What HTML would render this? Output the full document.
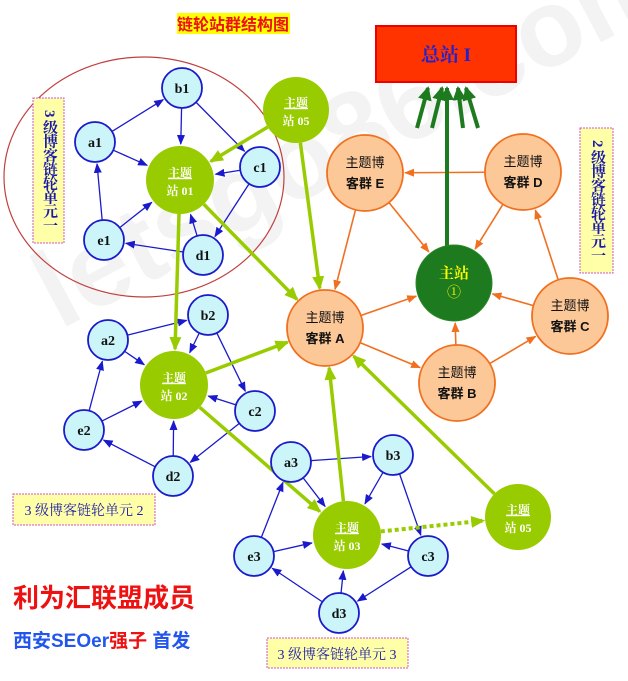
<!DOCTYPE html>
<html><head><meta charset="utf-8"><style>
body{margin:0;background:#fff;width:628px;height:681px;overflow:hidden;font-family:"Liberation Serif","Noto Serif CJK SC",serif}
svg{position:absolute;left:0;top:0}
.t{font-family:"Liberation Sans","Noto Sans CJK SC",sans-serif}
</style></head><body>
<svg id="s" width="628" height="681" xmlns="http://www.w3.org/2000/svg">
<defs>
<marker id="mb" markerWidth="10" markerHeight="8" refX="9" refY="4" orient="auto" markerUnits="userSpaceOnUse"><path d="M0,0L10,4L0,8z" fill="#1a1acc"/></marker>
<marker id="mo" markerWidth="10" markerHeight="8" refX="9" refY="4" orient="auto" markerUnits="userSpaceOnUse"><path d="M0,0L10,4L0,8z" fill="#f07020"/></marker>
<marker id="mg" markerWidth="14" markerHeight="12" refX="12" refY="6" orient="auto" markerUnits="userSpaceOnUse"><path d="M0,0L14,6L0,12z" fill="#99cc00"/></marker>
<marker id="md" markerWidth="14" markerHeight="14" refX="12" refY="7" orient="auto" markerUnits="userSpaceOnUse"><path d="M0,0L14,7L0,14z" fill="#1e7a1e"/></marker>
</defs>
<text x="60" y="330" transform="rotate(-28 60 330)" font-size="110" font-family="Liberation Sans" font-weight="bold" fill="#f3f3f3">letsgo86.com</text>
<ellipse cx="144" cy="177" rx="140" ry="120" fill="none" stroke="#c04040" stroke-width="1.2"/>
<g id="edges"></g>
<g id="nodes"></g>
<rect x="177" y="13" width="113" height="21" fill="#ffff00"/>
<text x="233" y="30" text-anchor="middle" font-size="16" font-weight="bold" fill="#ee1111" class="t">链轮站群结构图</text>
<rect x="376" y="26" width="140" height="56" fill="#ff3300" stroke="#ee0000" stroke-width="2"/>
<text x="446" y="61" text-anchor="middle" font-size="19" font-weight="bold" fill="#2222cc">总站 I</text>
<rect x="33" y="98" width="31" height="145" fill="#ffffa8" stroke="#cc55cc" stroke-dasharray="2,1"/>
<text x="49" y="110" font-size="15" fill="#1a1aaa" style="writing-mode:vertical-rl;letter-spacing:-1px" font-weight="bold">3 级博客链轮单元一</text>
<rect x="580" y="128" width="33" height="145" fill="#ffffa8" stroke="#cc55cc" stroke-dasharray="2,1"/>
<text x="597" y="140" font-size="15" fill="#1a1aaa" style="writing-mode:vertical-rl;letter-spacing:-1px" font-weight="bold">2 级博客链轮单元一</text>
<rect x="13" y="494" width="142" height="31" fill="#ffffa8" stroke="#cc55cc" stroke-dasharray="2,1"/>
<text x="84" y="515" text-anchor="middle" font-size="14" fill="#1a1aaa">3 级博客链轮单元 2</text>
<rect x="267" y="638" width="141" height="30" fill="#ffffa8" stroke="#cc55cc" stroke-dasharray="2,1"/>
<text x="337" y="659" text-anchor="middle" font-size="14" fill="#1a1aaa">3 级博客链轮单元 3</text>
<text x="13" y="607" font-size="26" font-weight="bold" fill="#ee1111" class="t">利为汇联盟成员</text>
<text x="13" y="647" font-size="19" font-weight="bold" class="t" fill="#2255ee">西安SEOer<tspan fill="#ee1111">强子</tspan>  首发</text>
</svg>
<script>
var N={b1:[182,88,20],a1:[95,142,20],c1:[260,167,20],e1:[104,240,20],d1:[203,255,20],s1:[180,180,34],s5:[296,110,33],
a2:[108,340,20],b2:[208,315,20],s2:[174,385,34],c2:[255,411,20],e2:[84,430,20],d2:[173,476,20],
a3:[291,462,20],b3:[393,455,20],s3:[347,535,34],c3:[428,556,20],e3:[254,556,20],d3:[339,613,20],s6:[518,517,33],
E:[365,173,38],D:[523,172,38],A:[325,328,38],C:[570,316,38],B:[457,383,38],M:[454,283,38]};
var ns="http://www.w3.org/2000/svg",eg=document.getElementById('edges'),ng=document.getElementById('nodes');
function el(t,a,p){var e=document.createElementNS(ns,t);for(var k in a)e.setAttribute(k,a[k]);p.appendChild(e);return e}
function edge(a,b,col,w,m,dash){var A=N[a],B=N[b],dx=B[0]-A[0],dy=B[1]-A[1],l=Math.hypot(dx,dy),ux=dx/l,uy=dy/l;
var o={x1:A[0]+ux*A[2],y1:A[1]+uy*A[2],x2:B[0]-ux*(B[2]+2),y2:B[1]-uy*(B[2]+2),stroke:col,'stroke-width':w,'marker-end':'url(#'+m+')'};
if(dash)o['stroke-dasharray']=dash;el('line',o,eg)}
[1,2,3].forEach(function(i){var s='s'+i;[['a','b'],['b',s],['b','c'],['a',s],['c',s],['c','d'],['d',s],['d','e'],['e','a'],['e',s]].forEach(function(p){
var x=p[0]==s?s:p[0]+i,y=p[1]==s?s:p[1]+i;edge(x,y,'#1a1acc',1.3,'mb')})});
[['D','E'],['E','M'],['D','M'],['E','A'],['A','M'],['A','B'],['B','M'],['B','C'],['C','M'],['C','D']].forEach(function(p){edge(p[0],p[1],'#f07020',1.6,'mo')});
[['s5','s1'],['s5','A'],['s1','A'],['s1','s2'],['s2','A'],['s2','s3'],['s3','A'],['s6','A']].forEach(function(p){edge(p[0],p[1],'#99cc00',3.5,'mg')});
edge('s3','s6','#99cc00',4,'mg','4,3');
[[417,128,428,88],[432,128,442,88],[447,246,447,88],[463,128,458,88],[478,128,466,88]].forEach(function(c){el('line',{x1:c[0],y1:c[1],x2:c[2],y2:c[3],stroke:'#1e7a1e','stroke-width':4,'marker-end':'url(#md)'},eg)});
function txt(x,y,s,sz,col,extra){var t=el('text',Object.assign({x:x,y:y,'text-anchor':'middle','font-size':sz,fill:col},extra||{}),ng);t.textContent=s}
for(var k in N){var n=N[k];
if(k.length==2&&k[0]!='s'){el('circle',{cx:n[0],cy:n[1],r:n[2],fill:'#ccf5fa',stroke:'#1a1acc','stroke-width':1.8},ng);txt(n[0],n[1]+5,k,14,'#111',{'font-weight':'bold'})}
else if(k[0]=='s'){el('circle',{cx:n[0],cy:n[1],r:n[2],fill:'#99cc00'},ng);var lab=k=='s5'||k=='s6'?'05':'0'+k[1];
txt(n[0],n[1]-3,'主题',12,'#fff',{'font-weight':'bold','text-decoration':'underline'});txt(n[0],n[1]+15,'站 '+lab,12,'#fff',{'font-weight':'bold'})}
else if(k=='M'){el('circle',{cx:n[0],cy:n[1],r:n[2],fill:'#1e7a1e',stroke:'#2a8a2a'},ng);txt(n[0],n[1]-5,'主站',15,'#ffff00',{'font-weight':'bold'});txt(n[0],n[1]+14,'①',14,'#ffff00')}
else{el('circle',{cx:n[0],cy:n[1],r:n[2],fill:'#fcc898',stroke:'#f07020','stroke-width':1.8},ng);txt(n[0],n[1]-6,'主题博',13,'#111',{class:'t'});txt(n[0],n[1]+15,'客群 '+k,13,'#111',{class:'t','font-weight':'bold'})}}
</script>
</body></html>
